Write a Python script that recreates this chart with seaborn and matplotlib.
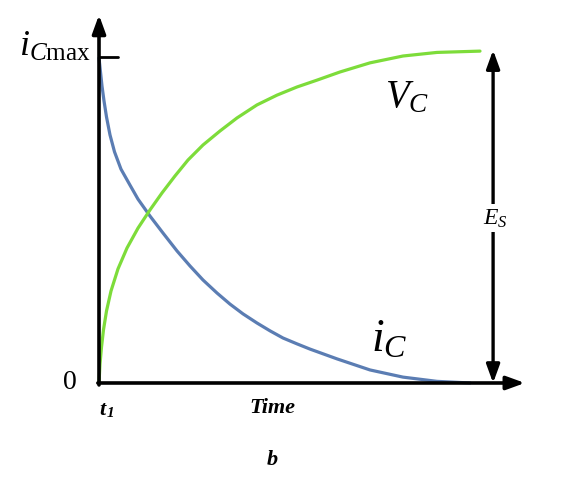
import numpy as np
import pandas as pd
import matplotlib
matplotlib.use("Agg")
import matplotlib.pyplot as plt
import seaborn as sns

sns.set_style("white")
plt.rcParams['font.family'] = ['Liberation Serif', 'DejaVu Serif']
plt.rcParams['text.color'] = 'black'
plt.rcParams['mathtext.fontset'] = 'custom'
plt.rcParams['mathtext.rm'] = 'Liberation Serif'
plt.rcParams['mathtext.it'] = 'Liberation Serif:italic'
plt.rcParams['mathtext.bf'] = 'Liberation Serif:bold'

# time (arbitrary units) and normalised values
time_ic = [0.000, 0.039, 0.078, 0.131, 0.196, 0.287, 0.405, 0.574, 0.809, 1.018,
           1.332, 1.671, 2.037, 2.376, 2.715, 3.081, 3.420, 3.760, 4.125, 4.465,
           4.804, 5.170, 5.509, 6.214, 7.076, 7.937, 8.825, 9.687]
current_ic = [0.997, 0.954, 0.911, 0.865, 0.816, 0.761, 0.709, 0.656, 0.607, 0.564,
              0.512, 0.460, 0.405, 0.359, 0.316, 0.276, 0.242, 0.212, 0.184, 0.160,
              0.138, 0.120, 0.104, 0.074, 0.040, 0.018, 0.005, 0.0]

time_vc = [0.000, 0.026, 0.065, 0.117, 0.196, 0.313, 0.496, 0.731, 1.018, 1.332,
           1.645, 1.984, 2.324, 2.715, 3.159, 3.603, 4.125, 4.648, 5.170, 5.692,
           6.292, 7.076, 7.937, 8.825, 9.948]
voltage_vc = [0.000, 0.058, 0.110, 0.163, 0.221, 0.282, 0.350, 0.414, 0.475, 0.531,
              0.583, 0.635, 0.684, 0.730, 0.773, 0.813, 0.853, 0.883, 0.908, 0.929,
              0.954, 0.982, 1.003, 1.014, 1.018]

ic_max = 1.0
es_level = 1.021
es_time = 10.29

df_ic = pd.DataFrame({'t': time_ic, 'v': current_ic})
df_vc = pd.DataFrame({'t': time_vc, 'v': voltage_vc})

fig = plt.figure(figsize=(5.70, 4.79), dpi=100)
ax = fig.add_axes([0, 0, 1, 1])

sns.lineplot(data=df_ic, x='t', y='v', ax=ax, color='#5b7db3', lw=2.3, sort=False)
sns.lineplot(data=df_vc, x='t', y='v', ax=ax, color='#7ddc3a', lw=2.3, sort=False)

ax.set_xlim(-2.585, 12.298)
ax.set_ylim(-0.2945, 1.1748)
ax.axis('off')

head = dict(arrowstyle='-|>,head_length=0.55,head_width=0.2', color='black',
            lw=2.6, mutation_scale=20, shrinkA=0, shrinkB=0)
# axes with arrows
ax.annotate('', xy=(0, 1.129), xytext=(0, -0.006), arrowprops=head, zorder=5)
ax.annotate('', xy=(11.12, 0), xytext=(-0.03, 0), arrowprops=head, zorder=5)
# i_Cmax tick
ax.plot([0, 0.5], [ic_max, ic_max], color='black', lw=2.0)

# E_S double arrow
both = dict(arrowstyle='<|-|>,head_length=0.55,head_width=0.2', color='black',
            lw=2.4, mutation_scale=20, shrinkA=0, shrinkB=0)
ax.annotate('', xy=(es_time, es_level), xytext=(es_time, 0), arrowprops=both)
ax.text(es_time + 0.07, 0.505, r'$E_S$', fontsize=17, ha='center', va='center',
        bbox=dict(facecolor='white', edgecolor='none', pad=2))

ax.text(-0.2, 1.03, r'$i_{C\mathrm{max}}$', fontsize=26, ha='right', va='center')
ax.text(8.04, 0.874, r'$V_C$', fontsize=28, ha='center', va='center')
ax.text(7.57, 0.13, r'$i_C$', fontsize=33, ha='center', va='center')
ax.text(-0.757, 0.003, '0', fontsize=20, ha='center', va='center')

ax.text(0.0, -0.083, 't', fontsize=16, fontweight='bold', fontstyle='italic',
        ha='left', va='center')
ax.text(0.2, -0.095, '1', fontsize=11, fontweight='bold', fontstyle='italic',
        ha='left', va='center')
ax.text(4.52, -0.077, 'Time', fontsize=16, fontweight='bold', fontstyle='italic',
        ha='center', va='center')
ax.text(4.52, -0.236, 'b', fontsize=16, fontweight='bold', fontstyle='italic',
        ha='center', va='center')

fig.savefig('out.png', dpi=100)
